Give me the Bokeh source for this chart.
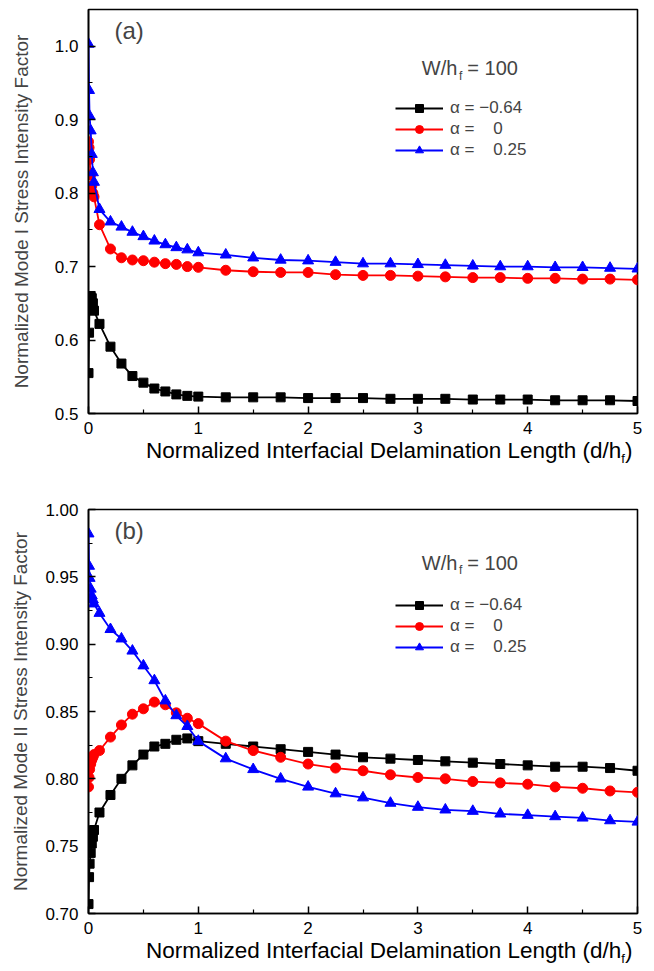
from bokeh.plotting import figure
from bokeh.models import (FixedTicker, PrintfTickFormatter, Label, Legend, LegendItem, Range1d,
                          Div)
from bokeh.layouts import column
from bokeh.embed import file_html
from bokeh.resources import INLINE

# ---------------- data ----------------
d = [0, 0.005, 0.01, 0.02, 0.03, 0.04, 0.05, 0.1, 0.2, 0.3, 0.4, 0.5, 0.6, 0.7, 0.8, 0.9, 1.0,
     1.25, 1.5, 1.75, 2.0, 2.25, 2.5, 2.75, 3.0, 3.25, 3.5, 3.75, 4.0, 4.25, 4.5, 4.75, 5.0]

# (a) Mode I
ki_m064 = [0.555, 0.610, 0.650, 0.660, 0.657, 0.650, 0.640,
           0.622, 0.591, 0.568, 0.551, 0.542, 0.534, 0.530, 0.526, 0.524, 0.523,
           0.522, 0.522, 0.522, 0.521, 0.521, 0.521, 0.520, 0.520, 0.520, 0.519, 0.519, 0.519,
           0.518, 0.518, 0.518, 0.517]
ki_0 = [0.870, 0.862, 0.846, 0.825, 0.810, 0.800, 0.795,
        0.757, 0.724, 0.712, 0.709, 0.708, 0.706, 0.704, 0.703, 0.700, 0.699,
        0.695, 0.693, 0.692, 0.692, 0.689, 0.688, 0.688, 0.687, 0.686, 0.685, 0.685, 0.684,
        0.684, 0.683, 0.683, 0.682]
ki_025 = [1.003, 0.940, 0.905, 0.885, 0.853, 0.828, 0.815,
          0.778, 0.761, 0.754, 0.747, 0.741, 0.735, 0.730, 0.726, 0.723, 0.719,
          0.716, 0.712, 0.709, 0.708, 0.706, 0.704, 0.704, 0.703, 0.702, 0.701, 0.700, 0.700,
          0.699, 0.699, 0.698, 0.697]

# (b) Mode II
kii_m064 = [0.707, 0.727, 0.737, 0.745, 0.752, 0.757, 0.762,
            0.775, 0.788, 0.800, 0.810, 0.818, 0.824, 0.826, 0.829, 0.830, 0.828,
            0.826, 0.824, 0.822, 0.820, 0.818, 0.816, 0.815, 0.814, 0.813, 0.812, 0.811, 0.810,
            0.809, 0.809, 0.808, 0.806]
kii_0 = [0.794, 0.801, 0.807, 0.811, 0.814, 0.816, 0.818,
         0.821, 0.831, 0.840, 0.848, 0.852, 0.857, 0.855, 0.849, 0.845, 0.841,
         0.828, 0.821, 0.816, 0.811, 0.808, 0.806, 0.803, 0.801, 0.800, 0.798, 0.797, 0.796,
         0.794, 0.793, 0.791, 0.790]
kii_025 = [0.982, 0.958, 0.949, 0.941, 0.936, 0.933, 0.930,
           0.923, 0.911, 0.904, 0.895, 0.884, 0.873, 0.858, 0.847, 0.839, 0.828,
           0.815, 0.807, 0.800, 0.794, 0.789, 0.786, 0.782, 0.779, 0.777, 0.776, 0.774, 0.773,
           0.772, 0.771, 0.769, 0.768]

series_labels = ["\u03b1 = \u22120.64", "\u03b1 = \u00a0\u00a0\u00a00", "\u03b1 = \u00a0\u00a0\u00a00.25"]
colors = ["#000000", "#ff0000", "#0000ff"]
markers = ["square", "circle", "triangle"]
msizes = [9, 10, 11]

x_ticks = [0, 1, 2, 3, 4, 5]
x_minor = [0.5, 1.5, 2.5, 3.5, 4.5]
ya_ticks = [0.5, 0.6, 0.7, 0.8, 0.9, 1.0]
ya_minor = [0.55, 0.65, 0.75, 0.85, 0.95, 1.05]
yb_ticks = [0.70, 0.75, 0.80, 0.85, 0.90, 0.95, 1.00]
yb_minor = [0.725, 0.775, 0.825, 0.875, 0.925, 0.975]

x_label_html = "Normalized Interfacial Delamination Length (d/h<span style='font-size:13px; vertical-align:-5px'>f</span>)"

FONT = "Liberation Sans"
FRAME_H = 404
BOTTOM = 32


def make_panel(ys, yr, yt, ym, yfmt, ylabel, tag, tag_y, top_border, lab_standoff,
               wh_y, wh_fy, legend_y):
    height = top_border + FRAME_H + BOTTOM
    p = figure(width=646, height=height, x_range=Range1d(0, 5), y_range=Range1d(*yr),
               output_backend="svg", toolbar_location=None,
               min_border_left=88, min_border_right=9, min_border_top=top_border,
               min_border_bottom=BOTTOM)
    p.xgrid.visible = False
    p.ygrid.visible = False
    p.outline_line_color = "black"
    p.outline_line_width = 1.6
    p.outline_line_alpha = 1.0
    p.background_fill_color = "white"

    p.xaxis.ticker = FixedTicker(ticks=x_ticks, minor_ticks=x_minor)
    p.xaxis.formatter = PrintfTickFormatter(format="%d")
    p.yaxis.ticker = FixedTicker(ticks=yt, minor_ticks=ym)
    p.yaxis.formatter = PrintfTickFormatter(format=yfmt)
    for ax in (p.xaxis, p.yaxis):
        ax.axis_line_width = 1.6
        ax.major_tick_in = 7
        ax.major_tick_out = 0
        ax.minor_tick_in = 4
        ax.minor_tick_out = 0
        ax.major_tick_line_width = 1.5
        ax.minor_tick_line_width = 1.2
        ax.major_label_text_font = FONT
        ax.major_label_text_font_size = "17px"
        ax.major_label_text_color = "black"
    p.xaxis.major_label_standoff = 8
    p.yaxis.major_label_standoff = 10
    p.yaxis.axis_label = ylabel
    p.yaxis.axis_label_text_font = FONT
    p.yaxis.axis_label_text_font_size = "19px"
    p.yaxis.axis_label_text_font_style = "normal"
    p.yaxis.axis_label_standoff = lab_standoff

    items = []
    for yv, c, m, s, lab in zip(ys, colors, markers, msizes, series_labels):
        lr = p.line(d, yv, line_color=c, line_width=1.8)
        sr = p.scatter(d, yv, marker=m, size=s, fill_color=c, line_color=c)
        items.append(LegendItem(label=lab, renderers=[lr, sr]))

    leg = Legend(items=items, location=(307, legend_y), orientation="vertical",
                 glyph_width=48, glyph_height=20, label_height=20, spacing=1,
                 label_standoff=7, padding=0, margin=0,
                 label_text_font=FONT, label_text_font_size="17px",
                 border_line_alpha=0, background_fill_alpha=0)
    p.add_layout(leg)

    # panel tag
    p.add_layout(Label(x=0.236, y=tag_y, text=tag, text_font=FONT, text_font_size="24px",
                       text_baseline="middle", text_align="left"))
    # W/h_f = 100
    p.add_layout(Label(x=3.36, y=wh_y, text="W/h", text_font=FONT, text_font_size="20px",
                       text_baseline="middle", text_align="right"))
    p.add_layout(Label(x=3.375, y=wh_fy, text="f", text_font=FONT, text_font_size="12px",
                       text_baseline="middle", text_align="left"))
    p.add_layout(Label(x=3.45, y=wh_y, text="= 100", text_font=FONT, text_font_size="20px",
                       text_baseline="middle", text_align="left"))
    return p


def make_xlabel():
    return Div(text=x_label_html, width=646, height=22, margin=(0, 0, 0, 0),
               styles={"font-family": FONT, "font-size": "22.5px", "line-height": "22px",
                       "white-space": "nowrap", "padding-left": "146px",
                       "position": "relative", "top": "-5px", "color": "black"})


pa = make_panel([ki_m064, ki_0, ki_025], (0.5, 1.05), ya_ticks, ya_minor, "%.1f",
                "Normalized Mode I Stress Intensity Factor", "(a)", 1.0216, 9, 20,
                0.970, 0.960, 253)
pb = make_panel([kii_m064, kii_0, kii_025], (0.70, 1.00), yb_ticks, yb_minor, "%.2f",
                "Normalized Mode II Stress Intensity Factor", "(b)", 0.9847, 42, 11,
                0.960, 0.9548, 256)

layout = column(pa, make_xlabel(), pb, make_xlabel(), spacing=0)
open("out.html", "w").write(file_html(layout, INLINE))
